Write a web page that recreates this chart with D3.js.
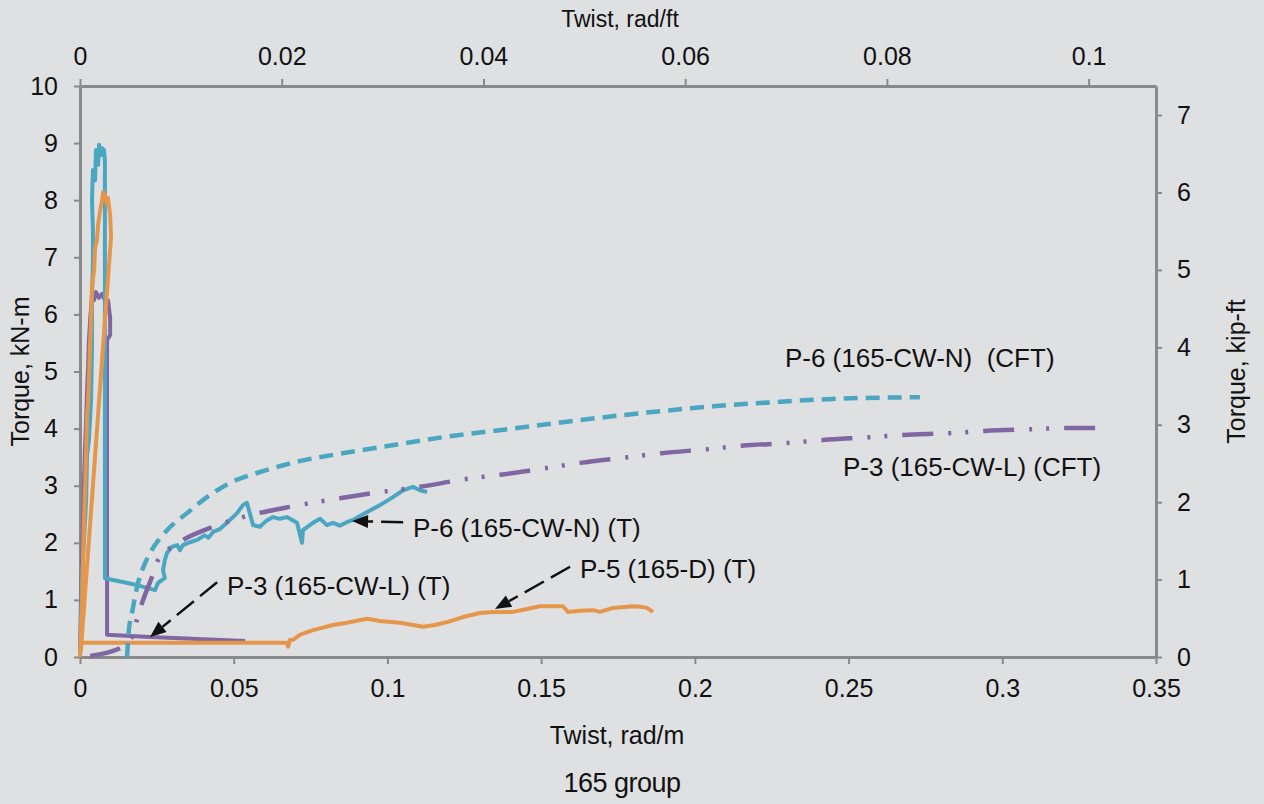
<!DOCTYPE html>
<html>
<head>
<meta charset="utf-8">
<script src="https://cdn.jsdelivr.net/npm/d3@7"></script>
<style>
  body { margin: 0; background: #dfe0e2; }
  text { font-family: "Liberation Sans", Arial, sans-serif; fill: #111; }
</style>
</head>
<body>
<div id="chart"></div>
<script>
// Twist (rad/m) and torque (kN-m)
const p6T_twist = [0, 0.0003, 0.0007, 0.0013, 0.002, 0.0023, 0.0029, 0.0036, 0.0039, 0.0039, 0.0042, 0.0042, 0.0039, 0.0042, 0.0049, 0.0052, 0.0059, 0.0062, 0.0068, 0.0072, 0.0078, 0.0081, 0.0081, 0.0185, 0.0244, 0.0254, 0.0276, 0.027, 0.0276, 0.0283, 0.0299, 0.0316, 0.0325, 0.0335, 0.0358, 0.0381, 0.0405, 0.0418, 0.0433, 0.0455, 0.0478, 0.0511, 0.053, 0.0543, 0.0563, 0.0585, 0.0605, 0.0628, 0.065, 0.0673, 0.0706, 0.0722, 0.0725, 0.0758, 0.0781, 0.0803, 0.0823, 0.0845, 0.0868, 0.0888, 0.0934, 0.0976, 0.1018, 0.1051, 0.1083, 0.1106, 0.1129];
const p6T_torque = [0, 0.65, 1.44, 2.05, 2.75, 3.54, 3.8, 4.5, 5.38, 6.25, 6.95, 7.48, 8.0, 8.53, 8.35, 8.88, 8.62, 8.97, 8.79, 8.91, 8.88, 8.7, 1.38, 1.26, 1.17, 1.3, 1.38, 1.52, 1.7, 1.82, 1.93, 1.96, 1.87, 1.96, 2.01, 2.05, 2.13, 2.09, 2.19, 2.24, 2.35, 2.52, 2.66, 2.7, 2.31, 2.28, 2.38, 2.45, 2.42, 2.45, 2.35, 2.0, 2.22, 2.35, 2.42, 2.31, 2.35, 2.3, 2.36, 2.4, 2.54, 2.66, 2.8, 2.92, 2.98, 2.92, 2.89];

const p3T_twist = [0, 0.0003, 0.0007, 0.001, 0.0013, 0.0016, 0.002, 0.0023, 0.0026, 0.0029, 0.0033, 0.0039, 0.0046, 0.0052, 0.0062, 0.0072, 0.0081, 0.0091, 0.0098, 0.0098, 0.0088, 0.0088, 0.0228, 0.0537];
const p3T_torque = [0, 1.0, 1.7, 2.4, 3.1, 3.63, 4.15, 4.68, 5.03, 5.55, 5.9, 6.34, 6.25, 6.39, 6.29, 6.36, 6.25, 6.25, 5.94, 5.64, 5.55, 0.39, 0.35, 0.28];

const p5T_twist = [0, 0.0007, 0.001, 0.0013, 0.0016, 0.002, 0.0023, 0.0026, 0.0029, 0.0033, 0.0036, 0.0039, 0.0046, 0.0049, 0.0055, 0.0059, 0.0065, 0.0072, 0.0075, 0.0081, 0.0088, 0.0091, 0.0098, 0.0101, 0.0003, 0.0003, 0.0673, 0.0677, 0.0683, 0.0693, 0.0716, 0.0758, 0.0823, 0.0868, 0.0934, 0.0976, 0.1041, 0.1083, 0.1116, 0.1155, 0.1194, 0.1246, 0.1301, 0.1343, 0.1408, 0.1454, 0.1496, 0.1571, 0.1587, 0.1626, 0.1669, 0.1691, 0.1734, 0.1799, 0.1822, 0.1844, 0.1864];
const p5T_torque = [0, 1.0, 1.7, 2.4, 2.89, 3.63, 4.2, 4.47, 4.85, 5.52, 5.9, 6.5, 6.78, 7.16, 7.3, 7.57, 7.81, 8.0, 8.14, 8.09, 7.93, 8.04, 7.74, 7.36, 0.12, 0.25, 0.25, 0.18, 0.3, 0.3, 0.39, 0.47, 0.56, 0.6, 0.67, 0.63, 0.6, 0.56, 0.53, 0.56, 0.61, 0.7, 0.77, 0.79, 0.79, 0.84, 0.89, 0.89, 0.79, 0.81, 0.82, 0.79, 0.86, 0.89, 0.88, 0.86, 0.79];

const p6CFT_twist = [0.0153, 0.0159, 0.0169, 0.0189, 0.0205, 0.0228, 0.0283, 0.0348, 0.0413, 0.0488, 0.0586, 0.0706, 0.0868, 0.1031, 0.1194, 0.1408, 0.1626, 0.1844, 0.2059, 0.2277, 0.2449, 0.2732];
const p6CFT_torque = [0, 0.47, 0.77, 1.3, 1.56, 1.82, 2.22, 2.52, 2.8, 3.05, 3.24, 3.42, 3.58, 3.72, 3.86, 4.0, 4.15, 4.28, 4.39, 4.47, 4.52, 4.55];

const p3CFT_twist = [0.0033, 0.014, 0.0172, 0.0185, 0.0202, 0.0234, 0.0254, 0.0293, 0.0335, 0.0433, 0.053, 0.0693, 0.0846, 0.0953, 0.1106, 0.1259, 0.1366, 0.1519, 0.1626, 0.1783, 0.1893, 0.2043, 0.2153, 0.2306, 0.2417, 0.257, 0.2677, 0.283, 0.2944, 0.3097, 0.3204, 0.3308];
const p3CFT_torque = [0.02, 0.18, 0.39, 0.65, 0.95, 1.4, 1.7, 1.91, 2.05, 2.28, 2.45, 2.64, 2.78, 2.87, 2.98, 3.12, 3.19, 3.31, 3.4, 3.5, 3.57, 3.64, 3.7, 3.75, 3.8, 3.85, 3.89, 3.92, 3.96, 3.99, 4.01, 4.01];

// tick labels
const xTicks = [0, 0.05, 0.1, 0.15, 0.2, 0.25, 0.3, 0.35];
const xTopTicks = [0, 0.02, 0.04, 0.06, 0.08, 0.1];
const yTicks = [0, 1, 2, 3, 4, 5, 6, 7, 8, 9, 10];
const yRightTicks = [0, 1, 2, 3, 4, 5, 6, 7];

// labels: [text, twist, torque]
const labels = [
  ["P-6 (165-CW-N)  (CFT)", 0.2293, 5.08],
  ["P-3 (165-CW-L) (CFT)", 0.2482, 3.17],
  ["P-6 (165-CW-N) (T)", 0.1083, 2.1],
  ["P-3 (165-CW-L) (T)", 0.0478, 1.09],
  ["P-5 (165-D) (T)", 0.1626, 1.38]
];
// arrows: [tailTwist, tailTorque, headTwist, headTorque]
const arrows = [
  [0.1051, 2.36, 0.0885, 2.38],
  [0.0446, 1.31, 0.0228, 0.35],
  [0.1594, 1.58, 0.135, 0.84]
];

const w = 1264;
const h = 804;
const mLeft = 80, mRight = 1156, mTop = 86, mBottom = 657;
const axisColor = "#898989";

const svg = d3
  .select("#chart")
  .append("svg")
  .attr("width", w)
  .attr("height", h)
  .style("display", "block")
  .style("background-color", "#dfe0e2");

const xScale = d3.scaleLinear().domain([0, 0.35]).range([mLeft, mRight]);
const xTop = d3.scaleLinear().domain([0, 0.35 * 0.3048]).range([mLeft, mRight]);
const yScale = d3.scaleLinear().domain([0, 10]).range([mBottom, mTop]);
const yRight = d3.scaleLinear().domain([0, 10 / 1.35582]).range([mBottom, mTop]);

// Axes
const xAxis = d3.axisBottom(xScale).tickValues(xTicks).tickFormat((d) => d).tickSize(7).tickSizeOuter(0).tickPadding(15);
const xAxisTop = d3.axisTop(xTop).tickValues(xTopTicks).tickFormat((d) => d).tickSize(7).tickSizeOuter(0).tickPadding(14);
const yAxis = d3.axisLeft(yScale).tickValues(yTicks).tickSize(6).tickSizeOuter(0).tickPadding(16);
const yAxisRight = d3.axisRight(yRight).tickValues(yRightTicks).tickSize(6).tickSizeOuter(0).tickPadding(15);

function styleAxis(g) {
  g.select(".domain").attr("stroke", axisColor).attr("stroke-width", 3);
  g.selectAll(".tick line").attr("stroke", axisColor).attr("stroke-width", 2);
  g.selectAll(".tick text").style("font-size", "25px").attr("fill", "#111")
    .style("font-family", '"Liberation Sans", Arial, sans-serif');
}

svg.append("g").attr("transform", `translate(0, ${mBottom})`).call(xAxis).call(styleAxis);
svg.append("g").attr("transform", `translate(0, ${mTop})`).call(xAxisTop).call(styleAxis);
svg.append("g").attr("transform", `translate(${mLeft}, 0)`).call(yAxis).call(styleAxis);
svg.append("g").attr("transform", `translate(${mRight}, 0)`).call(yAxisRight).call(styleAxis);

// Axis titles
svg.append("text").attr("x", 620).attr("y", 27).attr("text-anchor", "middle").style("font-size", "23px").text("Twist, rad/ft");
svg.append("text").attr("x", 617).attr("y", 744).attr("text-anchor", "middle").style("font-size", "25px").text("Twist, rad/m");
svg.append("text").attr("x", 622).attr("y", 792).attr("text-anchor", "middle").style("font-size", "27px").style("letter-spacing", "-0.5px").text("165 group");
svg.append("text").attr("transform", `translate(29, ${(mTop + mBottom) / 2}) rotate(-90)`).attr("text-anchor", "middle").style("font-size", "25px").text("Torque, kN-m");
svg.append("text").attr("transform", `translate(1245, ${(mTop + mBottom) / 2}) rotate(-90)`).attr("text-anchor", "middle").style("font-size", "25px").text("Torque, kip-ft");

// Lines
const zip = (xs, ys) => xs.map((x, i) => [x, ys[i]]);
const line = d3.line().x((d) => xScale(d[0])).y((d) => yScale(d[1]));
const smooth = d3.line().x((d) => xScale(d[0])).y((d) => yScale(d[1])).curve(d3.curveMonotoneX);

const teal = "#4ba7c1";
const purple = "#8066a2";
const orange = "#e6964b";

svg.append("path").datum(zip(p3T_twist, p3T_torque)).attr("d", line)
  .attr("fill", "none").attr("stroke", purple).attr("stroke-width", 4).attr("stroke-linejoin", "round");
svg.append("path").datum(zip(p6T_twist, p6T_torque)).attr("d", line)
  .attr("fill", "none").attr("stroke", teal).attr("stroke-width", 4).attr("stroke-linejoin", "round");
svg.append("path").datum(zip(p5T_twist, p5T_torque)).attr("d", line)
  .attr("fill", "none").attr("stroke", orange).attr("stroke-width", 4).attr("stroke-linejoin", "round");
svg.append("path").datum(zip(p6CFT_twist, p6CFT_torque)).attr("d", smooth)
  .attr("fill", "none").attr("stroke", teal).attr("stroke-width", 4.5).attr("stroke-dasharray", "14,8");
svg.append("path").datum(zip(p3CFT_twist, p3CFT_torque)).attr("d", smooth)
  .attr("fill", "none").attr("stroke", purple).attr("stroke-width", 4.5)
  .attr("stroke-dasharray", "31,15,3,14,3,15");

// Annotations
svg.selectAll(".label").data(labels).enter().append("text")
  .attr("class", "label")
  .attr("x", (d) => xScale(d[1]))
  .attr("y", (d) => yScale(d[2]))
  .style("font-size", "26px")
  .style("white-space", "pre")
  .attr("xml:space", "preserve")
  .text((d) => d[0]);

arrows.forEach((a) => {
  const x1 = xScale(a[0]), y1 = yScale(a[1]);
  const x2 = xScale(a[2]), y2 = yScale(a[3]);
  const ang = Math.atan2(y2 - y1, x2 - x1);
  const len = 16, half = 6.5;
  const bx = x2 - len * Math.cos(ang), by = y2 - len * Math.sin(ang);
  svg.append("line")
    .attr("x1", x1).attr("y1", y1).attr("x2", bx).attr("y2", by)
    .attr("stroke", "#111").attr("stroke-width", 2.5).attr("stroke-dasharray", "22,8");
  const pts = [
    [x2, y2],
    [bx + half * Math.sin(ang), by - half * Math.cos(ang)],
    [bx - half * Math.sin(ang), by + half * Math.cos(ang)]
  ];
  svg.append("polygon").attr("points", pts.map((p) => p.join(",")).join(" ")).attr("fill", "#111");
});
</script>
</body>
</html>
